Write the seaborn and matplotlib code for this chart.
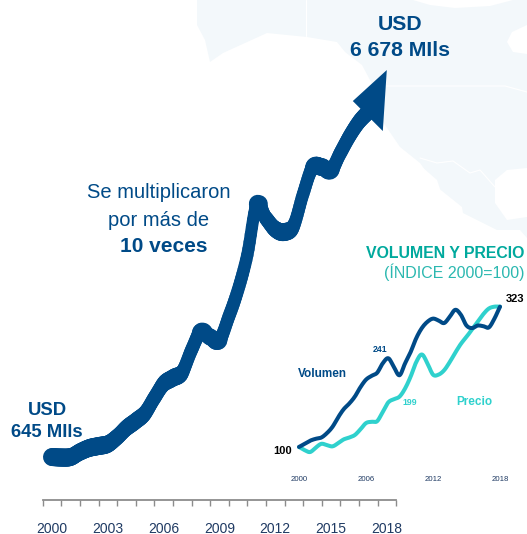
"""
Exportaciones: línea principal en USD y recuadro de volumen y precio
"""
import matplotlib
matplotlib.use('Agg')
import matplotlib.pyplot as plt
import numpy as np
import seaborn as sns
from matplotlib.patches import Polygon
from matplotlib.transforms import IdentityTransform

sns.set_theme(style='white')
plt.rcParams['font.family'] = ['Liberation Sans', 'DejaVu Sans']

W, H = 527, 534

# cada medio año
periodos = [2000 + i * 0.5 for i in range(37)]
usd = [645, 637, 645, 723, 785, 816, 848, 957, 1097, 1206, 1331, 1565, 1783,
       1877, 1970, 2313, 2594, 2516, 2469, 2828, 3249, 3794, 4573, 4371, 4200,
       4153, 4262, 4745, 5151, 5166, 5119, 5384, 5649, 5868, 6024, 6335, 6678]
volumen = [100, 105, 110, 113, 115, 122, 132, 147, 160, 169, 180, 195, 207,
           213, 218, 233, 241, 227, 214, 233, 251, 273, 289, 299, 304, 301,
           297, 307, 318, 310, 293, 289, 293, 292, 290, 304, 323]
precio = [100, 95, 92, 99, 105, 103, 101, 106, 112, 115, 119, 128, 138, 140,
          141, 156, 171, 176, 180, 193, 212, 235, 247, 233, 215, 215, 222, 235,
          250, 264, 275, 287, 299, 311, 320, 323, 323]

anios_usd = list(range(2000, 2019, 3))
anios_indice = [2000, 2006, 2012, 2018]

AZUL = '#004a87'
NAVY = '#1f3a63'
TEAL = '#00a99d'
TEAL2 = '#2bb8b0'
CIAN = '#2fd1cd'
MAPA = '#f3f8fb'


def curva(x, y, pasos=8):
    # curva suave que pasa por los puntos leidos (Catmull-Rom)
    x = np.asarray(x, dtype=float)
    y = np.asarray(y, dtype=float)
    p = np.column_stack([x, y])
    p = np.vstack([p[0], p, p[-1]])
    salida = []
    for i in range(1, len(p) - 2):
        for t in np.linspace(0, 1, pasos, endpoint=False):
            salida.append(0.5 * (2 * p[i] + (p[i + 1] - p[i - 1]) * t
                                 + (2 * p[i - 1] - 5 * p[i] + 4 * p[i + 1] - p[i + 2]) * t ** 2
                                 + (3 * p[i] - p[i - 1] - 3 * p[i + 1] + p[i + 2]) * t ** 3))
    salida.append(p[-2])
    salida = np.array(salida)
    return salida[:, 0], salida[:, 1]


fig = plt.figure(figsize=(W / 100, H / 100), dpi=100, facecolor='white')

# fondo y textos en pixeles
bg = fig.add_axes([0, 0, 1, 1])
bg.set_xlim(0, W)
bg.set_ylim(H, 0)
bg.axis('off')

# mapa de fondo, solo decorativo
tierra = [(197, 0), (527, 0), (527, 238), (520, 230), (497, 230), (463, 213),
          (462, 207), (437, 187), (420, 163), (400, 147), (383, 122), (378, 95),
          (362, 65), (345, 52), (337, 42), (307, 37), (267, 33), (223, 53),
          (210, 62), (205, 40), (197, 25)]
bg.add_patch(Polygon(tierra, closed=True, facecolor=MAPA, edgecolor='none'))
golfo = [(527, 168), (507, 170), (495, 180), (495, 203), (507, 220), (527, 217)]
bg.add_patch(Polygon(golfo, closed=True, facecolor='white', edgecolor='none'))
bahia = [(527, 25), (512, 32), (507, 42), (513, 52), (527, 54)]
bg.add_patch(Polygon(bahia, closed=True, facecolor='white', edgecolor='none'))
artico = [(413, 0), (513, 0), (490, 6), (455, 8), (430, 5)]
bg.add_patch(Polygon(artico, closed=True, facecolor='white', edgecolor='none'))
cortes = [(422, 167), (437, 180), (443, 198), (430, 180)]
bg.add_patch(Polygon(cortes, closed=True, facecolor='white', edgecolor='none'))
bg.plot([306, 306], [0, 36], color='white', lw=0.8)
bg.plot([386, 505, 527], [86, 86, 92], color='white', lw=0.8)
bg.plot([420, 437, 453, 470, 480, 495], [158, 163, 161, 173, 170, 187], color='white', lw=0.8)

# grafico principal
ax = fig.add_axes([0, (H - 500) / H, 1, 500 / H])
ax.patch.set_alpha(0)
ax.set_xlim(2000 - 52 / 18.6, 2000 + (W - 52) / 18.6)
ax.set_ylim(-25, 7770)

# trazo mas grueso en vertical que en horizontal, como una pluma eliptica;
# sin los dos ultimos puntos, que quedan bajo la flecha
x_usd, y_usd = curva(periodos[:-2], usd[:-2])
pix = ax.transData.transform(np.column_stack([x_usd, y_usd]))
for i in range(len(x_usd) - 1):
    dx, dy = pix[i + 1] - pix[i]
    largo = np.hypot(dx, dy)
    ancho_px = 2 * np.sqrt((6 * dy / largo) ** 2 + (9 * dx / largo) ** 2)
    sns.lineplot(x=x_usd[i:i + 2], y=y_usd[i:i + 2], ax=ax, color=AZUL,
                 linewidth=ancho_px * 0.72, solid_capstyle='round', errorbar=None)

# punta de flecha en el ultimo valor
punta = ax.transData.transform((periodos[-1], usd[-1]))
ax.add_patch(Polygon([punta, punta + [-34, -31], punta + [-4, -61]],
                     closed=True, facecolor=AZUL, edgecolor='none',
                     transform=IdentityTransform()))

ax.set_yticks([])
ax.set_xticks(anios_usd)
ax.set_xticklabels([str(a) for a in anios_usd], fontsize=10, color=NAVY)
ax.set_xticks(np.arange(1999.5, 2019), minor=True)
ax.tick_params(axis='x', which='major', length=0, pad=15.5, bottom=True)
ax.tick_params(axis='x', which='minor', length=4.5, width=1, color='#8c8c8c', bottom=True)
for lado in ['top', 'left', 'right']:
    ax.spines[lado].set_visible(False)
ax.spines['bottom'].set_color('#8c8c8c')
ax.spines['bottom'].set_linewidth(1.3)
ax.spines['bottom'].set_bounds(1999.5, 2018.5)

# recuadro volumen y precio
ins = fig.add_axes([299 / W, (H - 470) / H, 201 / W, 170 / H])
ins.patch.set_alpha(0)
x_p, y_p = curva(periodos, precio)
x_v, y_v = curva(periodos, volumen)
sns.lineplot(x=x_p, y=y_p, ax=ins, color=CIAN, linewidth=2.9,
             solid_capstyle='round', errorbar=None, clip_on=False)
sns.lineplot(x=x_v, y=y_v, ax=ins, color=AZUL, linewidth=2.9,
             solid_capstyle='round', errorbar=None, clip_on=False)
ins.set_xlim(2000, 2018)
ins.set_ylim(63.4, 333.6)
ins.set_yticks([])
ins.set_xticks(anios_indice)
ins.set_xticklabels([str(a) for a in anios_indice], fontsize=5.6, color=NAVY)
ins.tick_params(axis='x', length=0, pad=4)
sns.despine(ax=ins, left=True, bottom=True)

# textos
bg.text(47, 415, 'USD', ha='center', va='baseline', fontsize=13.3, fontweight='bold', color=AZUL)
bg.text(47, 437, '645 MIls', ha='center', va='baseline', fontsize=13.3, fontweight='bold', color=AZUL)
bg.text(400, 30, 'USD', ha='center', va='baseline', fontsize=15.3, fontweight='bold', color=AZUL)
bg.text(400, 55.7, '6 678 MIls', ha='center', va='baseline', fontsize=15.3, fontweight='bold', color=AZUL)
bg.text(159, 198, 'Se multiplicaron', ha='center', va='baseline', fontsize=14.5, color=AZUL)
bg.text(159, 226, 'por más de', ha='center', va='baseline', fontsize=14.5, color=AZUL)
bg.text(164, 252, '10 veces', ha='center', va='baseline', fontsize=15, fontweight='bold', color=AZUL)
bg.text(524, 258, 'VOLUMEN Y PRECIO', ha='right', va='baseline', fontsize=11.45, fontweight='bold', color=TEAL)
bg.text(524, 278, '(ÍNDICE 2000=100)', ha='right', va='baseline', fontsize=11.5, color=TEAL2)
bg.text(322, 376.7, 'Volumen', ha='center', va='baseline', fontsize=8.5, fontweight='bold', color=AZUL)
bg.text(474, 405, 'Precio', ha='center', va='baseline', fontsize=8.5, fontweight='bold', color=CIAN)
bg.text(380, 352, '241', ha='center', va='baseline', fontsize=6.3, fontweight='bold', color=AZUL)
bg.text(410, 405, '199', ha='center', va='baseline', fontsize=6.3, fontweight='bold', color=CIAN)
bg.text(283, 454, '100', ha='center', va='baseline', fontsize=8, fontweight='bold', color='black')
bg.text(515, 301.7, '323', ha='center', va='baseline', fontsize=8, fontweight='bold', color='black')

fig.savefig('out.png', dpi=100)
